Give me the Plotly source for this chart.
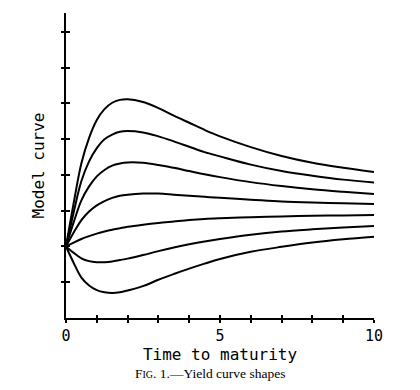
import plotly.graph_objects as go

# Time to maturity grid (x values at which the curves were read)
maturity = [0, 0.25, 0.5, 0.75, 1, 1.25, 1.5, 1.75, 2, 2.5, 3, 3.5, 4, 4.5, 5, 6, 7, 8, 9, 10]

# Model curves, top to bottom
curve_1 = [2.0, 3.22, 4.33, 5.04, 5.54, 5.84, 6.02, 6.10, 6.12, 6.04, 5.87, 5.66, 5.46, 5.26, 5.08, 4.78, 4.53, 4.34, 4.20, 4.08]
curve_2 = [2.0, 2.96, 3.83, 4.38, 4.75, 5.00, 5.13, 5.21, 5.23, 5.19, 5.08, 4.94, 4.79, 4.64, 4.52, 4.29, 4.11, 3.98, 3.87, 3.79]
curve_3 = [2.0, 2.68, 3.29, 3.68, 3.96, 4.14, 4.26, 4.32, 4.35, 4.34, 4.28, 4.20, 4.11, 4.02, 3.94, 3.80, 3.69, 3.60, 3.53, 3.47]
curve_4 = [2.0, 2.39, 2.74, 2.98, 3.15, 3.27, 3.36, 3.42, 3.45, 3.48, 3.48, 3.45, 3.42, 3.39, 3.36, 3.31, 3.26, 3.23, 3.21, 3.19]
curve_5 = [2.0, 2.11, 2.21, 2.29, 2.36, 2.42, 2.47, 2.51, 2.55, 2.61, 2.66, 2.70, 2.74, 2.77, 2.79, 2.82, 2.84, 2.86, 2.87, 2.88]
curve_6 = [2.0, 1.82, 1.67, 1.59, 1.56, 1.56, 1.58, 1.62, 1.66, 1.76, 1.87, 1.97, 2.06, 2.14, 2.21, 2.33, 2.42, 2.48, 2.53, 2.57]
curve_7 = [2.0, 1.54, 1.13, 0.91, 0.78, 0.72, 0.70, 0.72, 0.77, 0.89, 1.07, 1.23, 1.38, 1.52, 1.65, 1.85, 1.99, 2.11, 2.20, 2.27]

curves = [curve_1, curve_2, curve_3, curve_4, curve_5, curve_6, curve_7]

# Axis ticks
x_tickvals = [0, 1, 2, 3, 4, 5, 6, 7, 8, 9, 10]
x_ticktext = ["0", "", "", "", "", "5", "", "", "", "", "10"]
y_tickvals = [1, 2, 3, 4, 5, 6, 7, 8]
x_range = [0, 10]
y_range = [0, 8.53]

mono = "DejaVu Sans Mono"

fig = go.Figure()
for c in curves:
    fig.add_trace(go.Scatter(
        x=maturity, y=c, mode="lines",
        line=dict(color="black", width=2, shape="spline", smoothing=1.0),
        showlegend=False, hoverinfo="skip",
    ))

# The page body adds an 8px offset; margins compensate for it.
fig.update_layout(
    width=420, height=390,
    margin=dict(l=58, r=54, t=5, b=80),
    paper_bgcolor="white", plot_bgcolor="white",
    showlegend=False,
    xaxis=dict(
        range=x_range, tickvals=x_tickvals, ticktext=x_ticktext,
        ticks="outside", ticklen=3, tickwidth=1.5, tickcolor="black",
        showline=True, linecolor="black", linewidth=2,
        showgrid=False, zeroline=False,
        tickfont=dict(family=mono, size=15, color="black"),
        title=dict(text="Time to maturity", font=dict(family=mono, size=16, color="black"), standoff=4),
    ),
    yaxis=dict(
        range=y_range, tickvals=y_tickvals,
        ticks="outside", ticklen=3, tickwidth=1.5, tickcolor="black",
        showticklabels=False,
        showline=True, linecolor="black", linewidth=2,
        showgrid=False, zeroline=False,
        title=dict(text="Model curve", font=dict(family=mono, size=16, color="black"), standoff=12),
    ),
    xaxis2=dict(
        overlaying="x", range=x_range, tickvals=x_tickvals,
        ticks="inside", ticklen=3, tickwidth=1.5, tickcolor="black",
        showticklabels=False, showline=False, showgrid=False, zeroline=False,
        side="bottom",
    ),
    yaxis2=dict(
        overlaying="y", range=y_range, tickvals=y_tickvals,
        ticks="inside", ticklen=4, tickwidth=1.5, tickcolor="black",
        showticklabels=False, showline=False, showgrid=False, zeroline=False,
        side="left",
    ),
    annotations=[dict(
        text="F<span style='font-size:10px'>IG</span>. 1.—Yield curve shapes",
        xref="paper", yref="paper", x=0.467, y=0, yshift=-55,
        xanchor="center", yanchor="middle", showarrow=False,
        font=dict(family="Liberation Serif", size=13.5, color="black"),
    )],
)

# Invisible helper trace so the overlay axes (crossing ticks) are drawn
fig.add_trace(go.Scatter(x=[None], y=[None], xaxis="x2", yaxis="y2",
                         mode="lines", showlegend=False, hoverinfo="skip"))

fig.write_html("out.html")
